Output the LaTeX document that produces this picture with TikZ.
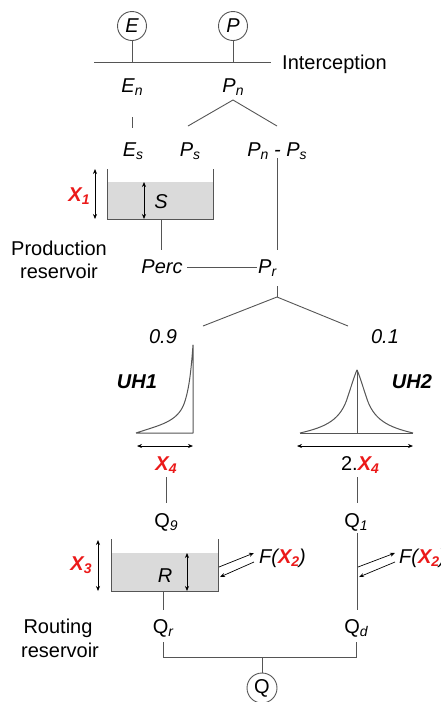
\documentclass[tikz,border=0pt]{standalone}
\usepackage{fontspec}
\setmainfont{Liberation Sans}
\usetikzlibrary{arrows.meta}
\definecolor{xred}{RGB}{235,25,25}
\definecolor{ln}{RGB}{85,85,85}
\definecolor{water}{RGB}{218,218,218}
\newcommand{\sbs}[1]{\raisebox{-0.18em}{\fontsize{14}{15}\selectfont #1}}
\newcommand{\xpar}[1]{\textcolor{xred}{\bfseries\itshape X\sbs{#1}}}
\begin{document}
\begin{tikzpicture}[x=1pt,y=-1pt,
  font=\fontsize{20}{24}\selectfont,
  lab/.style={inner sep=0pt, anchor=base},
  conn/.style={draw=ln, line width=0.9pt},
  wall/.style={draw=ln, line width=1pt},
  dbl/.style={draw=black, line width=0.7pt, {Stealth[length=5pt,width=4pt]}-{Stealth[length=5pt,width=4pt]}},
  sgl/.style={draw=black, line width=0.7pt, -{Stealth[length=5pt,width=4pt]}},
  circ/.style={circle, draw=ln, line width=0.9pt, minimum size=29pt, inner sep=0pt},
  uh/.style={draw=ln, line width=1pt, line join=round}]
\useasboundingbox (0,0) rectangle (441,702);
\clip (0,0) rectangle (441,702);

% inputs and interception
\node[circ] (E) at (132,26) {\itshape E};
\node[circ] (P) at (233,26) {\itshape P};
\coordinate (IL) at (94,62); \coordinate (IR) at (271,62);
\coordinate (Ej) at (132,62); \coordinate (Pj) at (233,62);
\draw[conn] (IL) -- (IR);
\draw[conn] (E) -- (Ej);
\draw[conn] (P) -- (Pj);
\node[lab, anchor=base west] (int) at (282,69) {Interception};

\node[lab] (En) at (132,92) {\itshape E\sbs{n}};
\node[lab] (Pn) at (233,92) {\itshape P\sbs{n}};
\coordinate (EnB) at (132,117); \coordinate (EsT) at (132,128);
\draw[conn] (EnB) -- (EsT);
\coordinate (PnB) at (233,100); \coordinate (PsT) at (188,126); \coordinate (PdT) at (277,126);
\draw[conn] (PsT) -- (PnB) -- (PdT);

\node[lab] (Es) at (133,156) {\itshape E\sbs{s}};
\node[lab] (Ps) at (190,156) {\itshape P\sbs{s}};
\node[lab] (Pd) at (277,156) {\itshape P\sbs{n} - P\sbs{s}};
\coordinate (PdB) at (277,158); \coordinate (PrT) at (277,250);
\draw[conn] (PdB) -- (PrT);

% production reservoir
\fill[water] (107,182) rectangle (213,219);
\draw[wall] (107,169) -- (107,219) -- (213,219) -- (213,169);
\coordinate (X1t) at (95,169); \coordinate (X1b) at (95,219);
\draw[dbl] (X1t) -- (X1b);
\coordinate (St) at (144,182); \coordinate (Sb) at (144,219);
\draw[dbl] (St) -- (Sb);
\node[lab] (S) at (161,208) {\itshape S};
\node[lab] (X1) at (79,201) {\xpar{1}};
\node[lab] (prod1) at (59,255) {Production};
\node[lab] (prod2) at (59,278) {reservoir};
\coordinate (SoT) at (161,219); \coordinate (SoB) at (161,250);
\draw[conn] (SoT) -- (SoB);

\node[lab] (Perc) at (162,273) {\itshape Perc};
\node[lab, anchor=base west] (Pr) at (258,273) {\itshape P\sbs{r}};
\coordinate (PcR) at (187,267); \coordinate (PrL) at (257,267);
\draw[conn] (PcR) -- (PrL);
\coordinate (PrB) at (277,286); \coordinate (Split) at (277,297);
\coordinate (S1) at (203,326); \coordinate (S2) at (348,326);
\draw[conn] (PrB) -- (Split);
\draw[conn] (S1) -- (Split) -- (S2);

\node[lab] (f09) at (163,343) {\itshape 0.9};
\node[lab] (f01) at (385,343) {\itshape 0.1};
\node[lab] (UH1) at (137,388) {\bfseries\itshape UH1};
\node[lab] (UH2) at (412,388) {\bfseries\itshape UH2};

% UH1
\draw[uh] (136,433) -- (193,433) -- (193,345)
  .. controls (191,372) and (189,390) .. (184,404)
  .. controls (177,422) and (160,425) .. (136,433);
% UH2
\draw[uh] (300,433) -- (413,433);
\draw[uh] (357,433) -- (357,370);
\draw[uh] (300,433) .. controls (326,427) and (341,420) .. (348,396)
  .. controls (352,384) and (355,374) .. (357,370)
  .. controls (359,374) and (362,384) .. (366,396)
  .. controls (373,420) and (388,427) .. (413,433);

\coordinate (A1l) at (137,446); \coordinate (A1r) at (193,446);
\draw[dbl] (A1l) -- (A1r);
\coordinate (A2l) at (297,446); \coordinate (A2r) at (413,446);
\draw[dbl] (A2l) -- (A2r);
\node[lab] (X4) at (166,470) {\xpar{4}};
\node[lab] (X4b) at (360,470) {2.\xpar{4}};
\coordinate (L1t) at (166,477); \coordinate (L1b) at (166,503);
\coordinate (L2t) at (357,477); \coordinate (L2b) at (357,503);
\draw[conn] (L1t) -- (L1b);
\draw[conn] (L2t) -- (L2b);
\node[lab] (Q9) at (166,527) {Q\sbs{\itshape 9}};
\node[lab] (Q1) at (356,527) {Q\sbs{\itshape 1}};
\coordinate (Q1B) at (357,533); \coordinate (QdT) at (357,610);
\draw[conn] (Q1B) -- (QdT);

% routing reservoir
\fill[water] (111,553) rectangle (218,591);
\draw[wall] (111,539) -- (111,591) -- (218,591) -- (218,539);
\coordinate (X3t) at (98,540); \coordinate (X3b) at (98,591);
\draw[dbl] (X3t) -- (X3b);
\coordinate (Rt) at (187,553); \coordinate (Rb) at (187,591);
\draw[dbl] (Rt) -- (Rb);
\node[lab] (R) at (165,582) {\itshape R};
\node[lab] (X3) at (81,570) {\xpar{3}};

\coordinate (F1a) at (219,567); \coordinate (F1b) at (254,553);
\coordinate (F1c) at (254,562); \coordinate (F1d) at (220,577);
\draw[sgl] (F1a) -- (F1b);
\draw[sgl] (F1c) -- (F1d);
\node[lab, anchor=base west] (F1) at (259,563) {\itshape F(\xpar{2}\itshape )};

\coordinate (F2a) at (358,567); \coordinate (F2b) at (395,553);
\coordinate (F2c) at (395,562); \coordinate (F2d) at (359,577);
\draw[sgl] (F2a) -- (F2b);
\draw[sgl] (F2c) -- (F2d);
\node[lab, anchor=base west] (F2) at (399,563) {\itshape F(\xpar{2}\itshape )};

\node[lab] (rout1) at (58,633) {Routing};
\node[lab] (rout2) at (60,657) {reservoir};

\coordinate (RoT) at (163,591); \coordinate (RoB) at (163,610);
\draw[conn] (RoT) -- (RoB);
\node[lab] (Qr) at (163,633) {Q\sbs{\itshape r}};
\node[lab] (Qd) at (356,633) {Q\sbs{\itshape d}};
\coordinate (QrB) at (163,642); \coordinate (QdB) at (356,642);
\coordinate (QrJ) at (163,657); \coordinate (QdJ) at (356,657);
\coordinate (Qj) at (262,657);
\draw[conn] (QrB) -- (QrJ) -- (QdJ) -- (QdB);
\node[circ, minimum size=30pt] (Q) at (262,688) {Q};
\draw[conn] (Qj) -- (Q);
\end{tikzpicture}
\end{document}
